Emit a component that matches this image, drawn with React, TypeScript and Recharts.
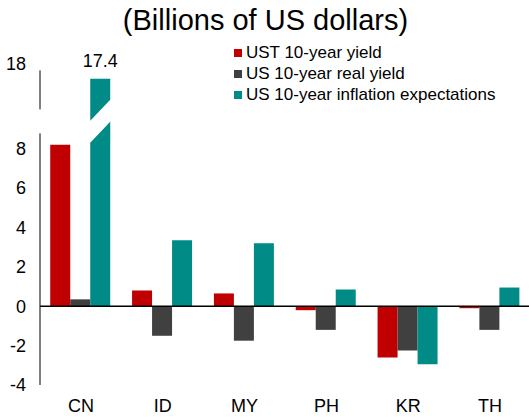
import React from 'react';
import { BarChart, Bar, XAxis, YAxis, ReferenceLine, LabelList, Rectangle } from 'recharts';

const categories = ['CN', 'ID', 'MY', 'PH', 'KR', 'TH'];
const ustYield = [8.2, 0.8, 0.65, -0.2, -2.6, -0.1];
const realYield = [0.35, -1.5, -1.75, -1.2, -2.25, -1.2];
const inflationExp = [17.4, 3.35, 3.2, 0.85, -2.95, 0.95];

const yTicks = [-4, -2, 0, 2, 4, 6, 8, 18];

// broken axis: values above BREAK_AT are pulled down by BREAK_SHIFT
const BREAK_AT = 10;
const BREAK_SHIFT = 5.85;
const toDisplay = (v: number) => (v > BREAK_AT ? v - BREAK_SHIFT : v);
const fromDisplay = (v: number) => (v > BREAK_AT ? Math.round(v + BREAK_SHIFT) : v);

const series = [
  { key: 'ust', name: 'UST 10-year yield', color: '#C00000' },
  { key: 'real', name: 'US 10-year real yield', color: '#404040' },
  { key: 'infl', name: 'US 10-year inflation expectations', color: '#008B86' },
];

const data = categories.map((name, i) => ({
  name,
  ust: ustYield[i],
  real: realYield[i],
  infl: toDisplay(inflationExp[i]),
  inflLabel: inflationExp[i] > BREAK_AT ? inflationExp[i].toFixed(1) : undefined,
  broken: inflationExp[i] > BREAK_AT,
}));

const FONT = '"Liberation Sans", Arial, sans-serif';

const BrokenBar = (props: any) => {
  const { x, y, width, height, fill, payload, value } = props;
  if (!payload.broken) return <Rectangle {...props} />;
  const dv = Array.isArray(value) ? value[1] : value;
  const ppu = height / dv;
  const bottom = y + height;
  const yAt = (v: number) => bottom - v * ppu;
  const low = 8.3, rise = 1.07, gap = 1.12;
  const lower = `${x},${bottom} ${x + width},${bottom} ${x + width},${yAt(low + rise)} ${x},${yAt(low)}`;
  const upper = `${x},${yAt(low + gap)} ${x + width},${yAt(low + gap + rise)} ${x + width},${y} ${x},${y}`;
  return (
    <g>
      <polygon points={lower} fill={fill} />
      <polygon points={upper} fill={fill} />
    </g>
  );
};

const YTick = (props: any) => {
  const { x, y, payload } = props;
  const v = payload.value;
  return (
    <text x={x} y={v > BREAK_AT ? y - 3 : y} dy="0.355em" textAnchor="end" fontSize={18} fill="#000" fontFamily={FONT}>
      {fromDisplay(v)}
    </text>
  );
};

export default function App() {
  return (
    <div style={{ position: 'fixed', left: 0, top: 0, width: 529, height: 419, overflow: 'hidden', background: '#fff', fontFamily: FONT }}>
      <div style={{ position: 'absolute', left: 0, top: 6, width: 531, textAlign: 'center', fontSize: 29, lineHeight: '29px', color: '#000' }}>
        (Billions of US dollars)
      </div>
      <div style={{ position: 'absolute', left: 234, top: 42, fontSize: 17, color: '#000' }}>
        {series.map((s) => (
          <div key={s.key} style={{ display: 'flex', alignItems: 'center', height: 21 }}>
            <span style={{ width: 8, height: 8, background: s.color, marginRight: 4, display: 'inline-block' }} />
            <span>{s.name}</span>
          </div>
        ))}
      </div>
      <BarChart
        width={531}
        height={419}
        data={data}
        margin={{ top: 67, right: 0, bottom: 4, left: 0 }}
        barCategoryGap="12.5%"
        barGap={0}
        style={{ position: 'absolute', left: 0, top: 0 }}
      >
        <XAxis
          dataKey="name"
          axisLine={false}
          tickLine={false}
          tickMargin={8}
          tick={{ fontSize: 18, fill: '#000', fontFamily: FONT }}
        />
        <YAxis
          width={40}
          domain={[-4, toDisplay(18)]}
          ticks={yTicks.map(toDisplay)}
          axisLine={false}
          tickLine={false}
          tickMargin={8}
          tick={<YTick />}
          interval={0}
        />
        {series.map((s) => (
          <Bar
            key={s.key}
            dataKey={s.key}
            name={s.name}
            fill={s.color}
            isAnimationActive={false}
            shape={s.key === 'infl' ? BrokenBar : undefined}
          >
            {s.key === 'infl' && (
              <LabelList dataKey="inflLabel" position="top" offset={12} fill="#000" fontSize={18} fontFamily={FONT} />
            )}
          </Bar>
        ))}
        <ReferenceLine y={0} stroke="#000" strokeWidth={1.5} ifOverflow="visible" />
        <ReferenceLine
          segment={[{ x: 'CN', y: -4 }, { x: 'CN', y: 8.78 }]}
          position="start"
          stroke="#000"
          strokeWidth={1}
          ifOverflow="visible"
        />
        <ReferenceLine
          segment={[{ x: 'CN', y: 10.0 }, { x: 'CN', y: 11.98 }]}
          position="start"
          stroke="#000"
          strokeWidth={1}
          ifOverflow="visible"
        />
      </BarChart>
    </div>
  );
}
